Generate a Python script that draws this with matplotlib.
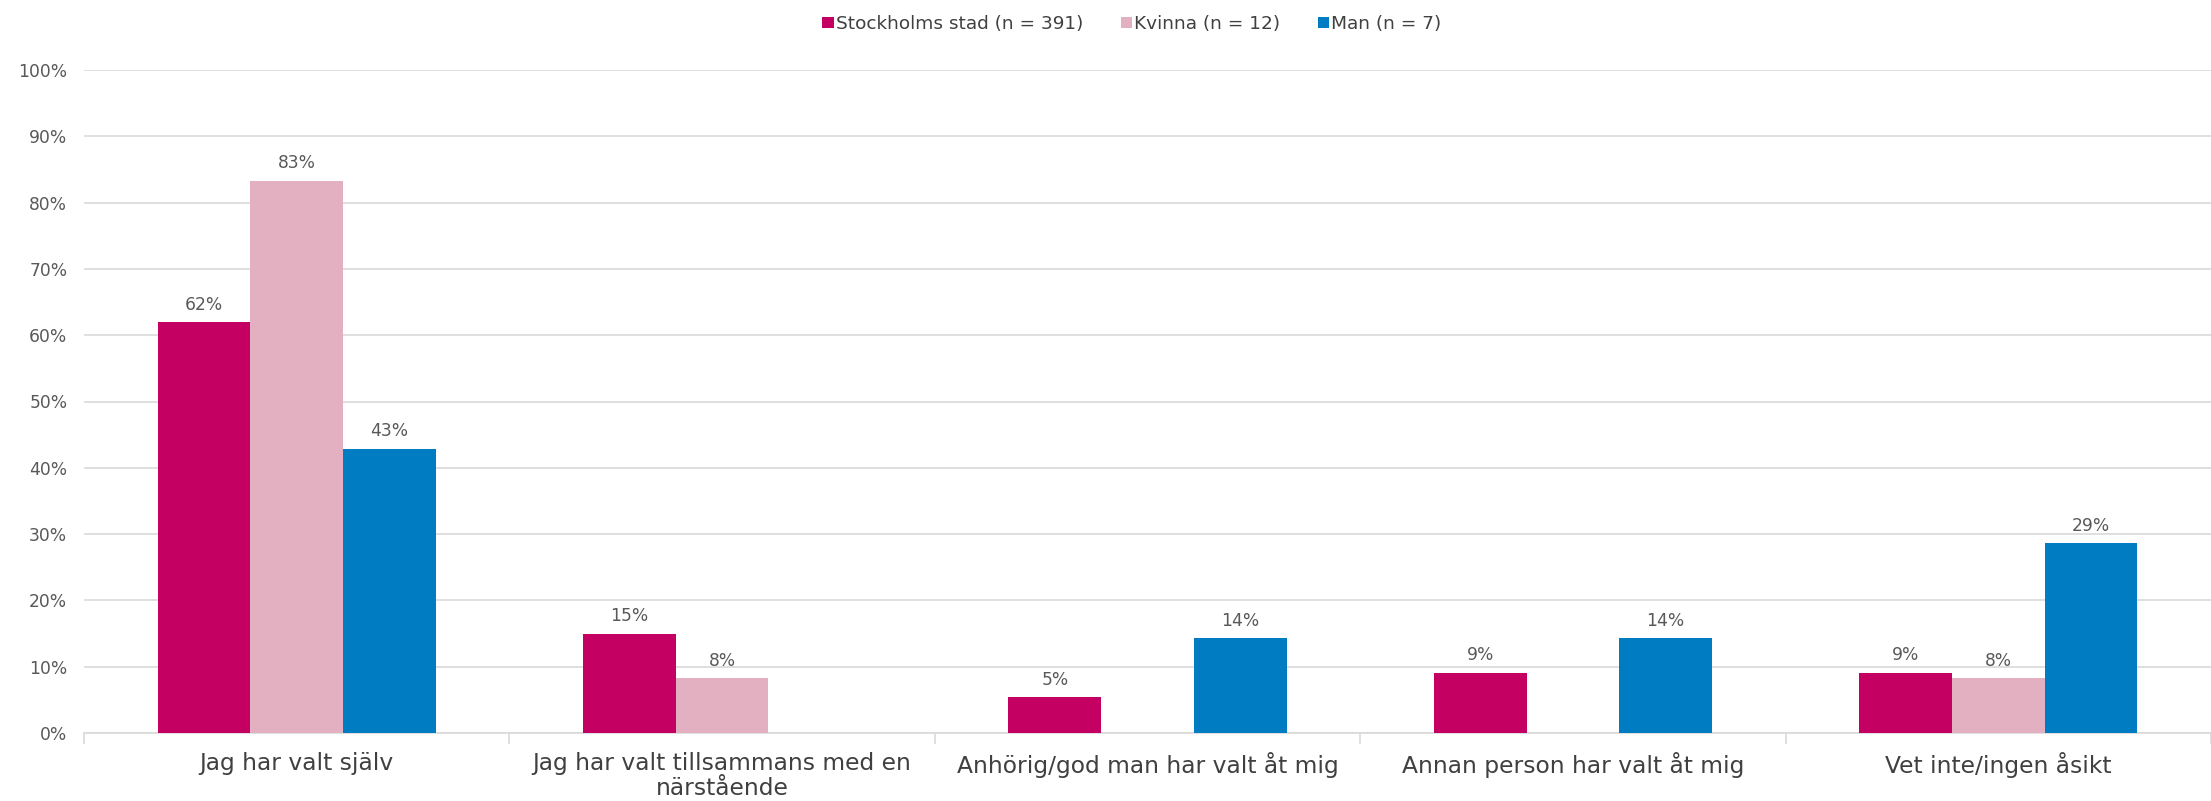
import matplotlib
matplotlib.use("Agg")
import matplotlib.pyplot as plt
import numpy as np

# categories and series (percent)
categories = [
    "Jag har valt själv",
    "Jag har valt tillsammans med en\nnärstående",
    "Anhörig/god man har valt åt mig",
    "Annan person har valt åt mig",
    "Vet inte/ingen åsikt",
]
series_names = ["Stockholms stad (n = 391)", "Kvinna (n = 12)", "Man (n = 7)"]
stockholm = [62.0, 15.0, 5.4, 9.1, 9.1]
kvinna = [83.3, 8.3, 0.0, 0.0, 8.3]
man = [42.9, 0.0, 14.3, 14.3, 28.6]
colors = ["#C40062", "#E3B0C1", "#007CC2"]

fig = plt.figure(figsize=(22.11, 8.01), dpi=100)
left = 84 / 2211
ax = fig.add_axes([left, 1 - 733 / 801, 1 - left, (733 - 70) / 801])

x = np.arange(len(categories))
width = 0.218
for i, (vals, col, name) in enumerate(zip([stockholm, kvinna, man], colors, series_names)):
    pos = x + (i - 1) * width
    ax.bar(pos, vals, width=width, color=col, label=name, zorder=3)
    for p, v in zip(pos, vals):
        if v > 0:
            ax.annotate(f"{v:.0f}%", (p, v), xytext=(0, 6), textcoords="offset points",
                        ha="center", va="bottom", fontsize=12.3, color="#595959")

ax.set_ylim(0, 100)
ax.set_xlim(-0.5, -0.5 + (2211 - 84) / 429)
ax.set_yticks(np.arange(0, 101, 10))
ax.set_yticklabels([f"{t}%" for t in range(0, 101, 10)], fontsize=12.3, color="#595959")
ax.tick_params(axis="y", length=0, pad=12)
ax.yaxis.grid(True, color="#D9D9D9", linewidth=1.2, zorder=0)

ax.set_xticks(x)
ax.set_xticklabels(categories, fontsize=16.8, color="#404040", linespacing=1.1)
ax.tick_params(axis="x", length=0, pad=14)
ax.set_xticks(np.arange(-0.5, 5, 1), minor=True)
ax.tick_params(axis="x", which="minor", length=8, color="#D9D9D9", width=1.2)

for s in ["top", "right", "left"]:
    ax.spines[s].set_visible(False)
ax.spines["bottom"].set_color("#D9D9D9")
ax.spines["bottom"].set_linewidth(1.2)

fig.legend(loc="center", bbox_to_anchor=(0.512, 0.97), ncol=3, frameon=False,
           fontsize=13.3, handlelength=0.6, handleheight=0.6, handletextpad=0.15,
           columnspacing=2.0, labelcolor="#404040")

fig.savefig("out.png", dpi=100)
